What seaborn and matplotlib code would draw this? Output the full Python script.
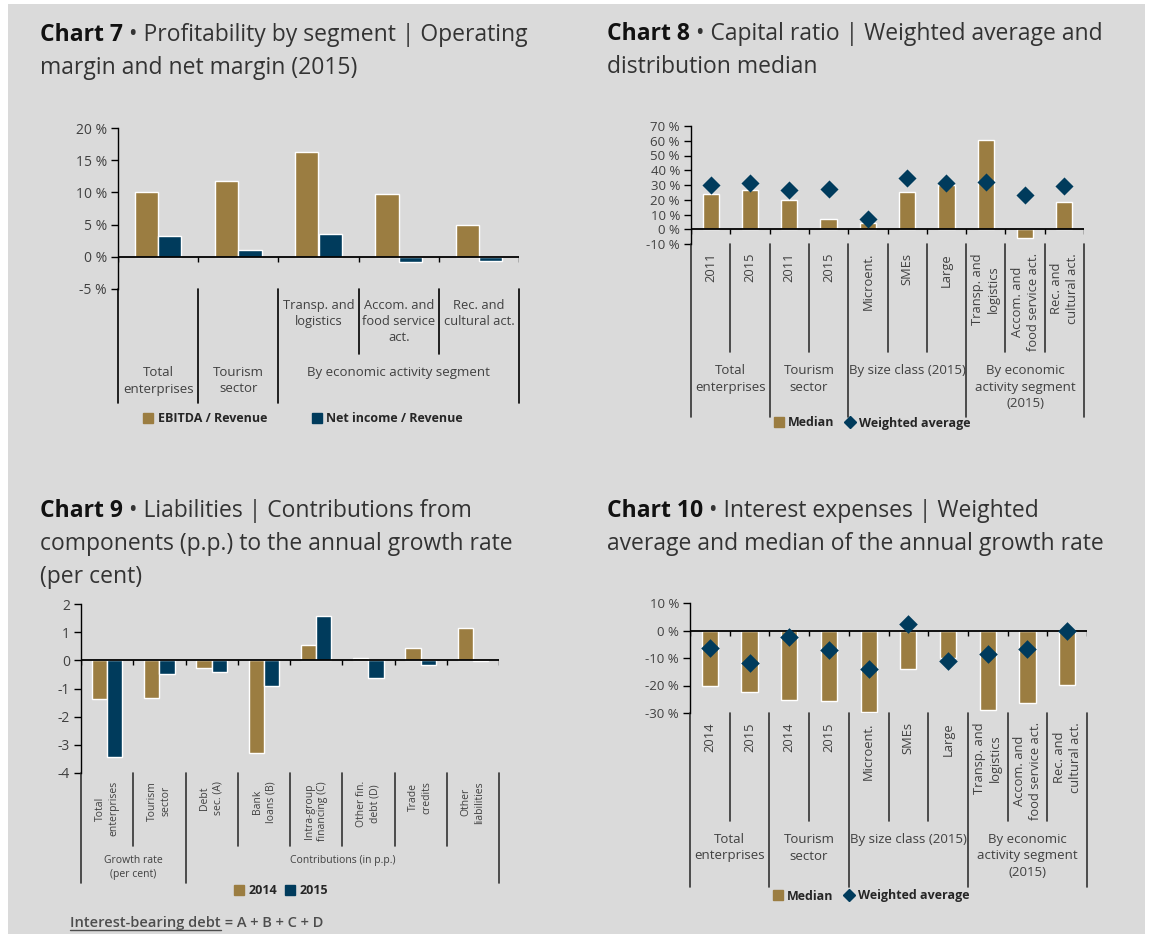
import numpy as np
import pandas as pd
import matplotlib
matplotlib.use("Agg")
import matplotlib.pyplot as plt
import matplotlib.transforms as mtransforms
from matplotlib.patches import Patch, Rectangle
from matplotlib.lines import Line2D
import seaborn as sns

W, H = 1154, 939
GOLD = "#9b7d41"
NAVY = "#003b5c"
BG = "#dadada"
TXT = "#404040"

# Chart 7 - profitability by segment (2015), in %
c7_level1 = ["", "", "Transp. and\nlogistics", "Accom. and\nfood service\nact.", "Rec. and\ncultural act."]
c7_groups = ["Total\nenterprises", "Tourism\nsector", "By economic activity segment"]
c7_group_sizes = [1, 1, 3]
c7_ebitda = [10.0, 11.8, 16.3, 9.8, 4.9]
c7_net = [3.2, 1.0, 3.5, -0.8, -0.6]

# Chart 8 - capital ratio, in %
c8_level1 = ["2011", "2015", "2011", "2015", "Microent.", "SMEs", "Large",
             "Transp. and\nlogistics", "Accom. and\nfood service act.", "Rec. and\ncultural act."]
c8_groups = ["Total\nenterprises", "Tourism\nsector", "By size class (2015)", "By economic\nactivity segment\n(2015)"]
c8_group_sizes = [2, 2, 3, 3]
c8_median = [23.9, 26.6, 19.5, 6.8, 3.9, 25.0, 30.0, 60.2, -5.9, 18.4]
c8_weighted = [29.8, 31.6, 26.6, 27.0, 6.8, 35.0, 31.1, 31.8, 23.2, 29.1]

# Chart 9 - liabilities, contributions (p.p.)
c9_level1 = ["Total\nenterprises", "Tourism\nsector", "Debt\nsec. (A)", "Bank\nloans (B)",
             "Intra-group\nfinancing (C)", "Other fin.\ndebt (D)", "Trade\ncredits", "Other\nliabilities"]
c9_groups = ["Growth rate\n(per cent)", "Contributions (in p.p.)"]
c9_group_sizes = [2, 6]
c9_2014 = [-1.39, -1.33, -0.28, -3.29, 0.55, 0.07, 0.45, 1.14]
c9_2015 = [-3.43, -0.50, -0.40, -0.90, 1.58, -0.62, -0.15, -0.02]

# Chart 10 - interest expenses growth, in %
c10_level1 = ["2014", "2015", "2014", "2015", "Microent.", "SMEs", "Large",
              "Transp. and\nlogistics", "Accom. and\nfood service act.", "Rec. and\ncultural act."]
c10_groups = ["Total\nenterprises", "Tourism\nsector", "By size class (2015)", "By economic\nactivity segment\n(2015)"]
c10_group_sizes = [2, 2, 3, 3]
c10_median = [-20.3, -22.5, -25.1, -25.8, -29.6, -14.0, -10.0, -29.0, -26.3, -19.7]
c10_weighted = [-6.2, -11.7, -2.2, -7.1, -14.1, 2.4, -11.1, -8.6, -6.8, 0.0]

sns.set_style("ticks")
plt.rcParams["font.family"] = ["Open Sans", "DejaVu Sans"]

fig = plt.figure(figsize=(W / 100, H / 100), dpi=100)
fig.patch.set_facecolor("white")
fig.add_artist(Rectangle((8 / W, 1 - 934 / H), 1137 / W, 930 / H, transform=fig.transFigure,
                         facecolor=BG, edgecolor="none", zorder=-10))
renderer = fig.canvas.get_renderer()


def fy(p):
    return 1 - p / H


def make_axes(x0, x1, ytop, ybot):
    ax = fig.add_axes([x0 / W, 1 - ybot / H, (x1 - x0) / W, (ybot - ytop) / H])
    ax.set_facecolor("none")
    return ax


def style(ax, n, ymin, ymax, step, pct, fs, ytop, ybot):
    ax.set_xlim(-0.5, n - 0.5)
    ax.set_ylim(ymin, ymax)
    ticks = np.arange(ymin, ymax + step / 2, step)
    ax.set_yticks(ticks)
    ax.set_yticklabels([f"{t:.0f} %" if pct else f"{t:.0f}" for t in ticks])
    ax.set_xticks([])
    ax.set_xlabel("")
    ax.set_ylabel("")
    for s in ["top", "right", "bottom"]:
        ax.spines[s].set_visible(False)
    ax.spines["left"].set_color("black")
    ax.spines["left"].set_linewidth(1.0)
    ax.tick_params(axis="y", length=5, width=1, color="black", labelsize=fs, labelcolor=TXT, pad=3)
    ax.axhline(0, color="black", lw=1.3, zorder=5)
    d = (ymax - ymin) / (ybot - ytop) * 5
    ax.vlines(np.arange(n + 1) - 0.5, -d, 0, color="black", lw=1, zorder=5)


def below(ax, n, level1, groups, sizes, ytop, ymid, ybot, lab_top, grp_top, fs1, fs2, rot, lc):
    trans = mtransforms.blended_transform_factory(ax.transData, fig.transFigure)
    edges = np.cumsum([0] + sizes)
    for b in range(n + 1):
        full = b in edges
        ax.plot([b - 0.5, b - 0.5], [fy(ytop), fy(ybot if full else ymid)], transform=trans,
                color=lc, lw=1.2, clip_on=False)
    for i, lab in enumerate(level1):
        ax.text(i, fy(lab_top), lab, transform=trans, rotation=rot, ha="center", va="top",
                ma="center", fontsize=fs1, color=TXT, linespacing=1.3)
    for lab, k, start in zip(groups, sizes, edges[:-1]):
        ax.text(start + (k - 1) / 2, fy(grp_top), lab, transform=trans, ha="center", va="top",
                ma="center", fontsize=fs2, color=TXT, linespacing=1.35)


def title(x, y0, bold, lines, dy=33):
    t = fig.text(x / W, fy(y0), bold, fontsize=16.5, fontweight="bold", color="#111111", va="baseline")
    w = t.get_window_extent(renderer).width
    fig.text((x + w) / W, fy(y0), " \u2022 " + lines[0], fontsize=16.5, color="#333333", va="baseline")
    for j, ln in enumerate(lines[1:], start=1):
        fig.text(x / W, fy(y0 + j * dy), ln, fontsize=16.5, color="#333333", va="baseline")


def legend(handles, labels, cx, cy, colsp):
    fig.legend(handles, labels, loc="center", bbox_to_anchor=(cx / W, fy(cy)), ncol=2, frameon=False,
               prop={"weight": "bold", "size": 9}, handlelength=0.8, handleheight=0.8,
               handletextpad=0.35, columnspacing=colsp, borderpad=0)


# ---- Chart 7
title(40, 41, "Chart 7", ["Profitability by segment | Operating", "margin and net margin (2015)"])
ax7 = make_axes(118, 519, 128, 289)
df7 = pd.DataFrame({"cat": list(range(5)) * 2,
                    "value": c7_ebitda + c7_net,
                    "series": ["EBITDA / Revenue"] * 5 + ["Net income / Revenue"] * 5})
sns.barplot(data=df7, x="cat", y="value", hue="series", palette=[GOLD, NAVY], width=0.58,
            saturation=1, ax=ax7, legend=False)
style(ax7, 5, -5, 20, 5, True, 10, 128, 289)
below(ax7, 5, c7_level1, c7_groups, c7_group_sizes, 289, 354, 403, 299, 366, 9.3, 9.5, 0, "black")
legend([Patch(color=GOLD), Patch(color=NAVY)], ["EBITDA / Revenue", "Net income / Revenue"], 303, 419, 3.6)

# ---- Chart 8
title(607, 40, "Chart 8", ["Capital ratio | Weighted average and", "distribution median"])
ax8 = make_axes(691, 1084, 126, 244)
df8 = pd.DataFrame({"pos": range(10), "median": c8_median, "weighted": c8_weighted})
sns.barplot(data=df8, x="pos", y="median", color=GOLD, width=0.41, saturation=1, ax=ax8)
sns.scatterplot(data=df8, x="pos", y="weighted", marker="D", s=85, color=NAVY, linewidth=0,
                ax=ax8, zorder=6, legend=False)
style(ax8, 10, -10, 70, 10, True, 9.5, 126, 244)
below(ax8, 10, c8_level1, c8_groups, c8_group_sizes, 244, 352, 417, 253, 364, 9.3, 9.5, 90, "#333333")
legend([Patch(color=GOLD), Line2D([], [], marker="D", color=NAVY, ls="none", markersize=6.5)],
       ["Median", "Weighted average"], 872, 423, 0.8)

# ---- Chart 9
title(40, 517, "Chart 9", ["Liabilities | Contributions from", "components (p.p.) to the annual growth rate",
                           "(per cent)"])
ax9 = make_axes(81, 499, 604, 773)
df9 = pd.DataFrame({"cat": list(range(8)) * 2,
                    "value": c9_2014 + c9_2015,
                    "year": ["2014"] * 8 + ["2015"] * 8})
sns.barplot(data=df9, x="cat", y="value", hue="year", palette=[GOLD, NAVY], width=0.58,
            saturation=1, ax=ax9, legend=False)
style(ax9, 8, -4, 2, 1, False, 10, 604, 773)
below(ax9, 8, c9_level1, c9_groups, c9_group_sizes, 773, 846, 883, 781, 855, 7.5, 7.5, 90, "#333333")
legend([Patch(color=GOLD), Patch(color=NAVY)], ["2014", "2015"], 281, 891, 0.6)

t = fig.text(70 / W, fy(927), "Interest-bearing debt", fontsize=10.5, color="#4d4d4d", va="baseline",
             fontweight="semibold")
bb = t.get_window_extent(renderer)
fig.text((70 + bb.width) / W, fy(927), " = A + B + C + D", fontsize=10.5, color="#4d4d4d", va="baseline",
         fontweight="semibold")
fig.add_artist(Line2D([70 / W, (70 + bb.width) / W], [fy(930), fy(930)], color="#4d4d4d", lw=1,
                      transform=fig.transFigure))

# ---- Chart 10
title(607, 517, "Chart 10", ["Interest expenses | Weighted", "average and median of the annual growth rate"])
ax10 = make_axes(690, 1087, 603, 713)
df10 = pd.DataFrame({"pos": range(10), "median": c10_median, "weighted": c10_weighted})
sns.barplot(data=df10, x="pos", y="median", color=GOLD, width=0.41, saturation=1, ax=ax10)
sns.scatterplot(data=df10, x="pos", y="weighted", marker="D", s=90, color=NAVY, linewidth=0,
                ax=ax10, zorder=6, legend=False)
style(ax10, 10, -30, 10, 10, True, 9.5, 603, 713)
below(ax10, 10, c10_level1, c10_groups, c10_group_sizes, 713, 821, 887, 722, 833, 9.3, 9.5, 90, "#333333")
legend([Patch(color=GOLD), Line2D([], [], marker="D", color=NAVY, ls="none", markersize=6.5)],
       ["Median", "Weighted average"], 871, 896, 0.8)

fig.savefig("out.png", dpi=100, facecolor="white")
